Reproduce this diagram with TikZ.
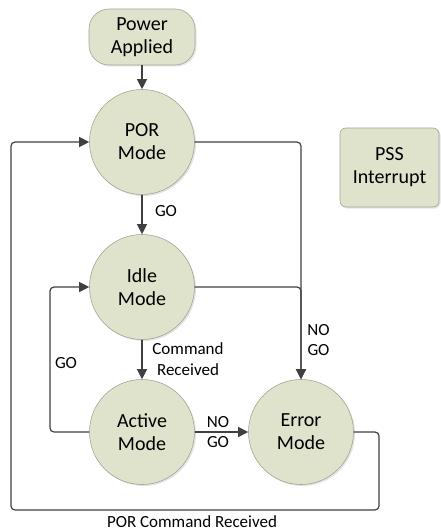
\documentclass[tikz,border=0pt]{standalone}
\usepackage{fontspec}
\setmainfont{Carlito}
\usetikzlibrary{arrows.meta,shadows}
\definecolor{statefill}{HTML}{DFE3CC}
\definecolor{stateline}{HTML}{A3A595}
\definecolor{wire}{HTML}{404040}
\begin{document}
\begin{tikzpicture}[x=1pt,y=-1pt,
  shade/.style={drop shadow={shadow xshift=1.5pt,shadow yshift=-1.5pt,opacity=0.22}},
  state/.style={circle,minimum size=105pt,inner sep=0pt,fill=statefill,
    draw=stateline,line width=0.6pt,align=center,
    font=\fontsize{20}{23}\selectfont,shade},
  boxstate/.style={rectangle,fill=statefill,draw=stateline,line width=0.6pt,
    align=center,inner sep=0pt,font=\fontsize{20}{23}\selectfont,shade},
  wire/.style={draw=wire,line width=1.2pt,rounded corners=4pt,
    -{Triangle[length=10pt,width=10pt]}},
  lbl/.style={font=\fontsize{17}{20.5}\selectfont,align=center,inner sep=0pt,text=black}]
\useasboundingbox (0,0) rectangle (441,532);

% states
\node[boxstate,rounded corners=20pt,minimum width=106pt,minimum height=56pt] (pwr) at (142,37) {Power\\Applied};
\node[boxstate,rounded corners=6pt,minimum width=99pt,minimum height=79pt] (pss) at (389.5,167.5) {PSS\\Interrupt};
\node[state] (por) at (142,142) {POR\\Mode};
\node[state] (idle) at (142,287) {Idle\\Mode};
\node[state] (active) at (142,432) {Active\\Mode};
\node[state] (error) at (301,432) {Error\\Mode};

% loop corners
\coordinate (goleft) at (50,432);
\coordinate (loopR) at (379,510);
\coordinate (loopL) at (11,510);

% transitions
\draw[wire] (pwr) -- (por);
\draw[wire] (por) -- (idle);
\draw[wire] (idle) -- (active);
\draw[wire] (active) -- (error);
\draw[wire] (por.east) -| (error.north);
\draw[wire] (idle.east) -| (error.north);
\draw[wire] (active.west) -- (goleft) |- (idle.west);
\draw[wire] (error.east) -| (loopR) -- (loopL) |- (por.west);

% transition labels
\node[lbl] (lgo1) at (166,211) {GO};
\node[lbl] (lcmd) at (188,359) {Command\\Received};
\node[lbl] (lnogo1) at (318.5,340) {NO\\GO};
\node[lbl] (lnogo2) at (218,432) {NO\\GO};
\node[lbl] (lgo2) at (66,363) {GO};
\node[lbl] (lpor) at (192,522) {POR Command Received};
\end{tikzpicture}
\end{document}
